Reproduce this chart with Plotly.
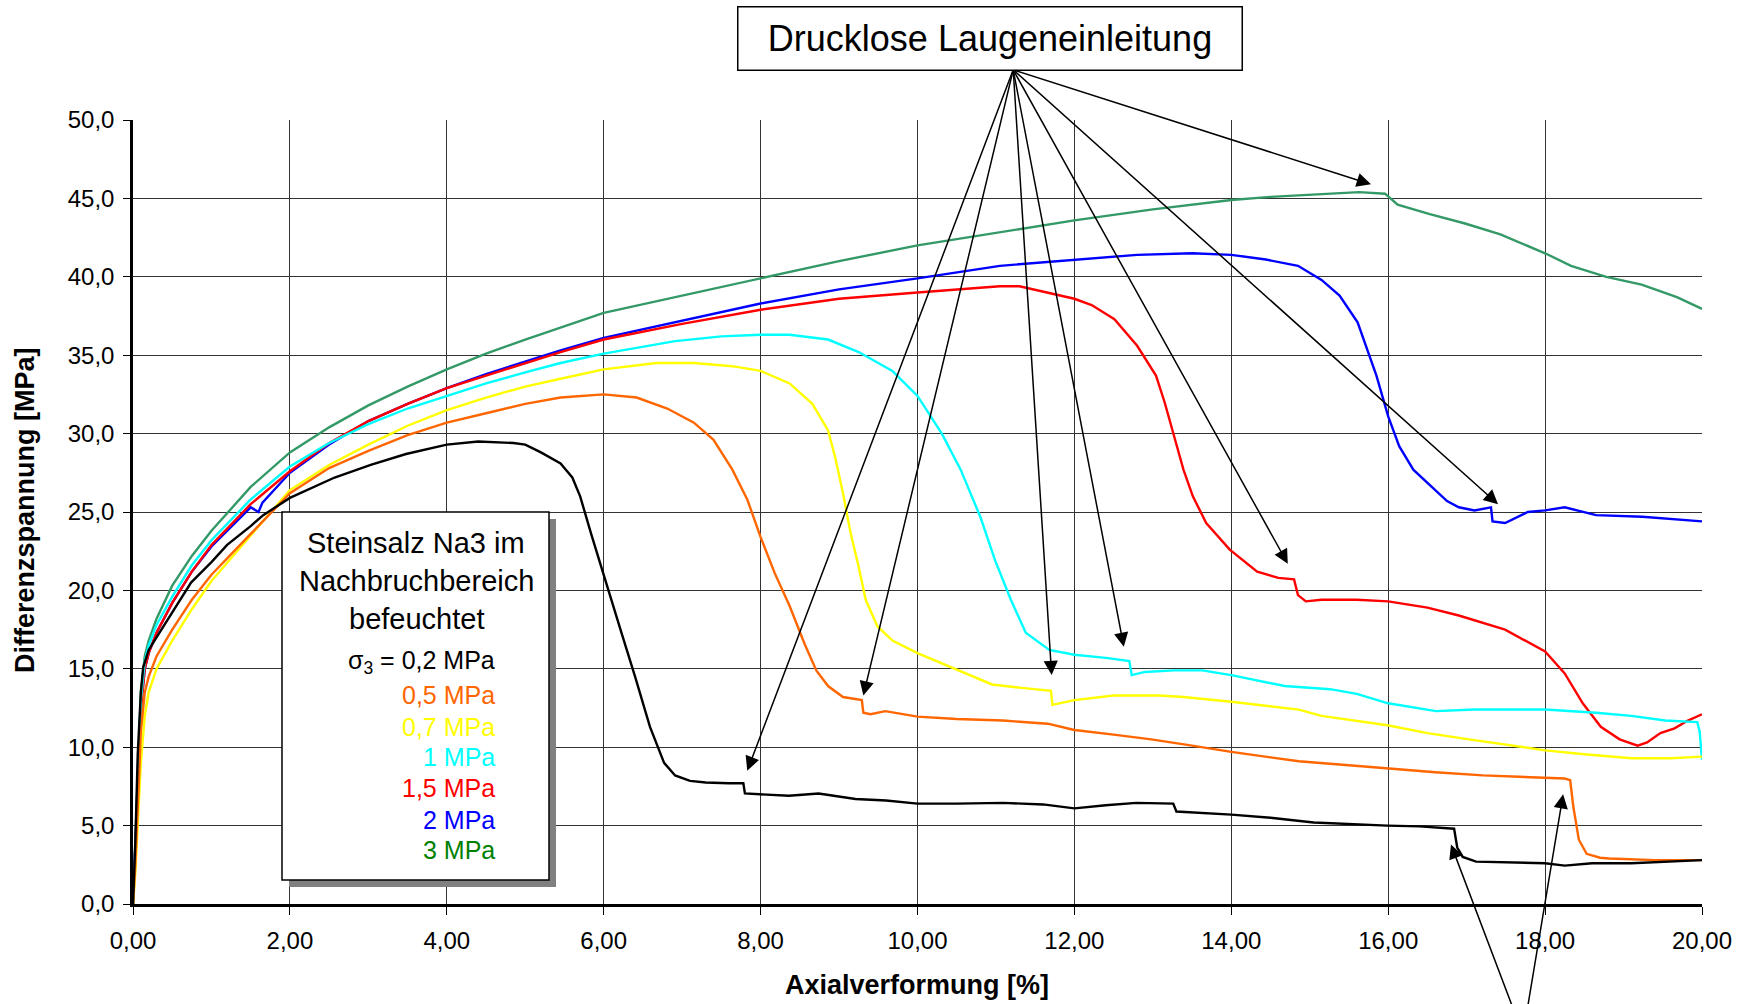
import plotly.graph_objects as go

# ---------------- data ----------------
black_pts = [(0,0),(0.03,4),(0.06,9.5),(0.1,13.5),(0.13,15.1),(0.2,16.2),(0.3,17.0),(0.5,18.6),(0.74,20.5),(1.0,21.8),
             (1.2,22.9),(1.5,24.1),(1.66,24.8),(2.0,25.9),(2.3,26.6),(2.57,27.2),(3.03,28.0),(3.48,28.7),(4.0,29.3),
             (4.4,29.5),(4.85,29.4),(5.0,29.3),(5.2,28.8),(5.45,28.1),(5.6,27.2),(5.7,26.0),(5.84,23.6),(5.95,21.8),
             (6.04,20.2),(6.22,17.4),(6.4,14.5),(6.59,11.3),(6.77,9.0),(6.91,8.2),(7.1,7.85),(7.3,7.75),(7.59,7.7),
             (7.78,7.7),(7.8,7.05),(8.0,7.0),(8.36,6.9),(8.74,7.05),(9.21,6.7),(9.6,6.6),(10.0,6.4),(10.5,6.4),
             (11.09,6.45),(11.6,6.35),(12.0,6.1),(12.4,6.3),(12.79,6.45),(13.26,6.4),(13.3,5.9),(14.0,5.7),(14.5,5.5),
             (15.05,5.2),(15.5,5.1),(15.99,5.0),(16.4,4.95),(16.74,4.85),(16.84,4.8),(16.88,3.6),(16.95,3.0),
             (17.12,2.7),(17.5,2.65),(18.0,2.6),(18.25,2.45),(18.6,2.6),(19.1,2.6),(19.5,2.7),(20.0,2.8)]

orange_pts = [(0,0),(0.03,2.5),(0.06,6),(0.1,11),(0.15,13.5),(0.2,14.5),(0.3,15.8),(0.5,17.5),(0.75,19.4),(1.0,21.0),
              (1.5,23.6),(2.0,26.2),(2.5,27.8),(3.0,28.9),(3.5,29.9),(4.0,30.7),(4.5,31.3),(5.0,31.9),(5.45,32.3),
              (6.0,32.5),(6.42,32.3),(6.81,31.6),(7.15,30.7),(7.4,29.6),(7.64,27.7),(7.83,25.8),(8.0,23.4),(8.18,21.1),
              (8.37,19.0),(8.56,16.6),(8.71,14.9),(8.86,13.9),(9.05,13.2),(9.2,13.1),(9.29,13.0),(9.31,12.2),(9.4,12.1),
              (9.59,12.3),(10.0,11.95),(10.5,11.8),(11.09,11.7),(11.66,11.5),(12.0,11.1),(12.5,10.8),(12.98,10.5),
              (13.5,10.1),(14.0,9.7),(14.5,9.35),(14.86,9.1),(15.5,8.85),(15.99,8.65),(16.6,8.4),(17.21,8.2),(17.8,8.1),
              (18.25,8.0),(18.32,7.9),(18.36,6.2),(18.43,4.1),(18.53,3.2),(18.7,2.95),(18.82,2.9),(19.4,2.8),(20.0,2.8)]

yellow_pts = [(0,0),(0.03,2),(0.06,5),(0.1,9),(0.15,12),(0.2,13.5),(0.3,15),(0.5,16.8),(0.75,18.8),(1.0,20.6),
              (1.5,23.5),(2.0,26.4),(2.5,28.0),(3.0,29.3),(3.5,30.5),(4.0,31.5),(4.5,32.3),(5.0,33.0),(5.45,33.5),
              (6.0,34.1),(6.67,34.5),(7.15,34.5),(7.64,34.3),(8.0,34.0),(8.37,33.2),(8.66,31.9),(8.86,30.2),(8.95,28.5),
              (9.05,26.2),(9.15,23.6),(9.25,21.5),(9.34,19.4),(9.49,17.7),(9.68,16.8),(10.0,16.0),(10.51,14.9),
              (10.95,14.0),(11.3,13.8),(11.7,13.6),(11.72,12.7),(11.85,12.85),(12.0,13.0),(12.5,13.3),(13.08,13.3),
              (13.39,13.2),(14.0,12.9),(14.86,12.4),(15.15,12.0),(15.99,11.4),(16.5,10.9),(17.03,10.5),(18.0,9.8),
              (18.5,9.55),(19.1,9.3),(19.6,9.3),(20.0,9.4)]

cyan_pts = [(0,0),(0.03,3),(0.06,8),(0.1,13),(0.15,15.5),(0.2,16.5),(0.3,17.8),(0.5,19.6),(0.75,21.6),(1.0,23.2),
            (1.5,25.8),(2.0,27.9),(2.5,29.4),(3.0,30.6),(3.5,31.6),(4.0,32.4),(4.5,33.2),(5.0,33.9),(5.45,34.5),
            (6.0,35.1),(6.91,35.9),(7.5,36.2),(8.0,36.3),(8.37,36.3),(8.86,36.0),(9.25,35.2),(9.68,34.0),(10.0,32.4),
            (10.31,30.0),(10.55,27.7),(10.8,24.7),(10.99,21.9),(11.19,19.4),(11.38,17.3),(11.68,16.2),(12.0,15.9),
            (12.4,15.7),(12.7,15.5),(12.73,14.6),(12.9,14.8),(13.27,14.9),(13.63,14.9),(14.0,14.6),(14.68,13.9),
            (15.26,13.7),(15.6,13.4),(16.0,12.8),(16.61,12.3),(17.1,12.4),(17.49,12.4),(18.0,12.4),(18.65,12.2),
            (19.1,12.0),(19.53,11.7),(19.94,11.6),(19.97,11.0),(20.0,9.2)]

red_pts = [(0,0),(0.03,3),(0.06,7.5),(0.1,12.5),(0.15,15),(0.2,16.0),(0.3,17.3),(0.5,19.2),(0.75,21.2),(1.0,22.9),
           (1.5,25.5),(2.0,27.6),(2.5,29.4),(3.0,30.8),(3.5,31.9),(4.0,32.9),(4.5,33.7),(5.0,34.5),(5.45,35.2),
           (6.0,36.0),(7.0,37.0),(8.0,37.9),(9.0,38.6),(10.0,39.0),(10.5,39.2),(11.05,39.4),(11.3,39.4),(11.64,39.0),
           (12.0,38.6),(12.22,38.2),(12.51,37.3),(12.8,35.6),(13.04,33.7),(13.15,32.0),(13.27,29.8),(13.39,27.7),
           (13.51,26.0),(13.68,24.3),(13.98,22.6),(14.33,21.2),(14.6,20.8),(14.8,20.7),(14.85,19.7),(14.95,19.3),
           (15.15,19.4),(15.6,19.4),(16.0,19.3),(16.5,18.9),(16.9,18.4),(17.49,17.5),(18.0,16.1),(18.25,14.7),
           (18.48,12.8),(18.71,11.3),(18.95,10.5),(19.18,10.1),(19.3,10.3),(19.47,10.9),(19.65,11.2),(19.82,11.7),
           (20.0,12.1)]

blue_pts = [(0,0),(0.03,3.5),(0.06,8),(0.1,12.5),(0.15,15),(0.2,16.0),(0.3,17.3),(0.5,19.2),(0.75,21.2),(1.0,22.8),
            (1.5,25.3),(1.6,25.0),(1.65,25.6),(2.0,27.5),(2.5,29.3),(3.0,30.8),(3.5,31.9),(4.0,32.9),(4.5,33.8),
            (5.0,34.6),(5.45,35.3),(6.0,36.1),(7.0,37.2),(8.0,38.3),(9.0,39.2),(10.0,39.9),(11.05,40.7),(12.0,41.1),
            (12.8,41.4),(13.5,41.5),(14.0,41.4),(14.44,41.1),(14.85,40.7),(15.15,39.8),(15.38,38.8),(15.61,37.1),
            (15.73,35.4),(15.85,33.7),(16.0,31.1),(16.14,29.2),(16.32,27.7),(16.55,26.6),(16.75,25.7),(16.9,25.3),
            (17.1,25.1),(17.31,25.3),(17.33,24.4),(17.49,24.3),(17.78,25.0),(18.0,25.1),(18.25,25.3),(18.65,24.8),
            (19.24,24.7),(20.0,24.4)]

green_pts = [(0,0),(0.03,4),(0.06,9),(0.1,13.5),(0.15,15.8),(0.2,16.8),(0.3,18.2),(0.5,20.3),(0.75,22.2),(1.0,23.8),
             (1.5,26.6),(2.0,28.8),(2.5,30.4),(3.0,31.8),(3.5,33.0),(4.0,34.1),(4.5,35.1),(5.0,36.0),(6.0,37.7),
             (7.0,38.8),(8.0,39.9),(9.0,41.0),(10.0,42.0),(11.0,42.8),(12.0,43.6),(13.0,44.3),(14.0,44.9),(14.5,45.1),
             (15.18,45.3),(15.63,45.4),(15.96,45.3),(16.12,44.6),(16.53,44.0),(16.98,43.4),(17.43,42.7),(18.0,41.5),
             (18.33,40.7),(18.78,40.0),(19.23,39.5),(19.68,38.7),(20.0,37.95)]

series_labels = ["0,2 MPa", "0,5 MPa", "0,7 MPa", "1 MPa", "1,5 MPa", "2 MPa", "3 MPa"]

# arrow heads (data coords) for "Drucklose Laugeneinleitung"
arrow_top_heads = [(15.78, 45.9), (17.40, 25.5), (14.72, 21.7), (12.63, 16.4), (11.71, 14.6), (9.31, 13.3), (7.83, 8.5)]
arrow_top_tail = (11.22, 53.2)
arrow_bottom = [((16.80, 3.8), (17.58, -6.5)), ((18.23, 7.0), (17.78, -6.5))]

x_ticks = [0, 2, 4, 6, 8, 10, 12, 14, 16, 18, 20]
y_ticks = [0, 5, 10, 15, 20, 25, 30, 35, 40, 45, 50]

# ---------------- figure ----------------
W, H = 1754, 1004
ML, MR, MT, MB = 133, 52, 120, 100
PW, PH = W - ML - MR, H - MT - MB

def px(xp, yp):
    return (xp - ML) / PW, (H - MB - yp) / PH

FONT = "Arial, Liberation Sans, Helvetica, sans-serif"

fig = go.Figure()
traces = [
    (green_pts, "#339966", "3 MPa"),
    (blue_pts, "#0000FF", "2 MPa"),
    (red_pts, "#FF0000", "1,5 MPa"),
    (cyan_pts, "#00FFFF", "1 MPa"),
    (yellow_pts, "#FFFF00", "0,7 MPa"),
    (orange_pts, "#FF6600", "0,5 MPa"),
    (black_pts, "#000000", "0,2 MPa"),
]
for pts, col, name in traces:
    fig.add_trace(go.Scatter(x=[p[0] for p in pts], y=[p[1] for p in pts], mode="lines",
                             line=dict(color=col, width=2.4), name=name, showlegend=False))

shapes = []
# legend box shadow + box
sx0, sy0 = px(289, 519)
sx1, sy1 = px(556, 887)
shapes.append(dict(type="rect", xref="paper", yref="paper", x0=sx0, y0=sy1, x1=sx1, y1=sy0,
                   fillcolor="#808080", line=dict(width=0), layer="above"))
bx0, by0 = px(282, 512)
bx1, by1 = px(549, 880)
shapes.append(dict(type="rect", xref="paper", yref="paper", x0=bx0, y0=by1, x1=bx1, y1=by0,
                   fillcolor="white", line=dict(color="black", width=1.5), layer="above"))

annotations = []
for (hx, hy) in arrow_top_heads:
    annotations.append(dict(x=hx, y=hy, ax=arrow_top_tail[0], ay=arrow_top_tail[1], xref="x", yref="y",
                            axref="x", ayref="y", text="", showarrow=True, arrowhead=2, arrowsize=1.9,
                            arrowwidth=1.5, arrowcolor="black", standoff=0))
for (hx, hy), (tx, ty) in arrow_bottom:
    annotations.append(dict(x=hx, y=hy, ax=tx, ay=ty, xref="x", yref="y", axref="x", ayref="y", text="",
                            showarrow=True, arrowhead=2, arrowsize=1.9, arrowwidth=1.5, arrowcolor="black",
                            standoff=0))

tx, ty = px(990, 38)
annotations.append(dict(x=tx, y=ty, xref="paper", yref="paper", text="Drucklose Laugeneinleitung",
                        showarrow=False, font=dict(family=FONT, size=36, color="black"),
                        bgcolor="white", bordercolor="black", borderwidth=1.5, borderpad=6,
                        width=491, height=50, xanchor="center", yanchor="middle"))

# legend text
for txt, yp in [("Steinsalz Na3 im", 543), ("Nachbruchbereich", 581), ("befeuchtet", 619)]:
    ax_, ay_ = px(416, yp)
    annotations.append(dict(x=ax_, y=ay_, xref="paper", yref="paper", text=txt, showarrow=False,
                            font=dict(family=FONT, size=29, color="black"), xanchor="center", yanchor="middle"))
ax_, ay_ = px(421, 662)
annotations.append(dict(x=ax_, y=ay_, xref="paper", yref="paper", text="σ<sub>3</sub> = " + series_labels[0],
                        showarrow=False, font=dict(family=FONT, size=25, color="black"),
                        xanchor="center", yanchor="middle"))
leg_cols = ["#FF6600", "#FFFF00", "#00FFFF", "#FF0000", "#0000FF", "#008000"]
leg_y = [695, 727, 757, 788, 820, 850]
for lab, col, yp in zip(series_labels[1:], leg_cols, leg_y):
    ax_, ay_ = px(497, yp)
    annotations.append(dict(x=ax_, y=ay_, xref="paper", yref="paper", text=lab, showarrow=False,
                            font=dict(family=FONT, size=25, color=col), xanchor="right", yanchor="middle"))

# axis titles
ax_, ay_ = px(917, 985)
annotations.append(dict(x=ax_, y=ay_, xref="paper", yref="paper", text="<b>Axialverformung [%]</b>",
                        showarrow=False, font=dict(family=FONT, size=27, color="black"),
                        xanchor="center", yanchor="middle"))
ax_, ay_ = px(25, 510)
annotations.append(dict(x=ax_, y=ay_, xref="paper", yref="paper", text="<b>Differenzspannung [MPa]</b>",
                        showarrow=False, textangle=-90, font=dict(family=FONT, size=27, color="black"),
                        xanchor="center", yanchor="middle"))

fig.update_layout(
    width=W, height=H, margin=dict(l=ML, r=MR, t=MT, b=MB, pad=0),
    paper_bgcolor="white", plot_bgcolor="white", separators=",.",
    shapes=shapes, annotations=annotations, showlegend=False,
    font=dict(family=FONT, color="black"),
)
fig.update_xaxes(range=[0, 20], tickvals=x_ticks, tickformat=".2f", showgrid=True, gridcolor="#333333",
                 gridwidth=1, showline=True, linecolor="black", linewidth=2.5, ticks="outside", ticklen=8,
                 tickcolor="black", tickfont=dict(family=FONT, size=24, color="black"), zeroline=False,
                 ticklabelstandoff=5, fixedrange=True)
fig.update_yaxes(range=[0, 50], tickvals=y_ticks, tickformat=".1f", showgrid=True, gridcolor="#333333",
                 gridwidth=1, showline=True, linecolor="black", linewidth=2.5, ticks="outside", ticklen=7,
                 tickcolor="black", tickfont=dict(family=FONT, size=24, color="black"), zeroline=False,
                 ticklabelstandoff=4, fixedrange=True)

fig.write_html("out.html")
